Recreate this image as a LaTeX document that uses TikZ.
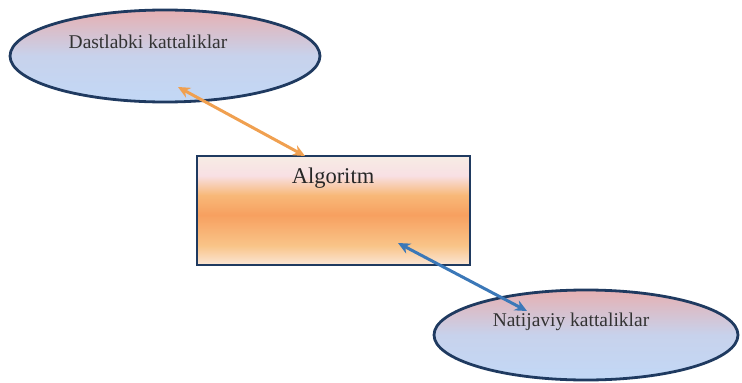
\documentclass[tikz,border=0pt]{standalone}
\usepackage{fontspec}
\setmainfont{Liberation Serif}
\usetikzlibrary{shapes.geometric,arrows.meta}
\definecolor{navy}{HTML}{1F3A60}
\definecolor{elltop}{HTML}{E6B0B2}
\definecolor{ellbot}{HTML}{C2D8F6}
\definecolor{orarrow}{HTML}{F0A050}
\definecolor{blarrow}{HTML}{3B78B8}
\definecolor{ag1}{RGB}{251,230,214}
\definecolor{ag2}{RGB}{249,196,136}
\definecolor{ag3}{RGB}{247,160,96}
\definecolor{ag4}{RGB}{248,184,120}
\definecolor{ag5}{RGB}{248,224,228}
\definecolor{ag6}{RGB}{246,236,228}
\pgfdeclareverticalshading{algshade}{100bp}{%
  color(0bp)=(ag1);
  color(25bp)=(ag1);
  color(34bp)=(ag2);
  color(48bp)=(ag3);
  color(57bp)=(ag4);
  color(66bp)=(ag5);
  color(75bp)=(ag6);
  color(100bp)=(ag6)}
\tikzset{
  ellbox/.style={ellipse, draw=navy, line width=2.8pt, inner sep=0pt,
    top color=elltop, bottom color=ellbot, middle color=ellbot!85!elltop},
  algbox/.style={rectangle, draw=navy, line width=2.6pt, inner sep=0pt, shading=algshade},
  lbl/.style={font=\fontsize{19.5}{22}\selectfont, text=black!80},
  biarrow/.style={line width=3pt, {Stealth[length=12pt,width=11pt]}-{Stealth[length=12pt,width=11pt]}},
}
\begin{document}
\begin{tikzpicture}[x=1pt,y=-1pt]
\useasboundingbox (0,0) rectangle (742,383);
\node[ellbox, minimum width=310pt, minimum height=92pt] (e1) at (165,56) {};
\node[lbl] (t1) at (148,42) {Dastlabki kattaliklar};
\node[algbox, minimum width=273pt, minimum height=109pt] (alg) at (333.5,210.5) {};
\node[font=\fontsize{22.5}{25}\selectfont, text=black!85] (t2) at (333,178) {Algoritm};
\node[ellbox, minimum width=304pt, minimum height=90pt] (e2) at (586,335) {};
\node[lbl] (t3) at (571,322) {Natijaviy kattaliklar};
\coordinate (a1) at (178,87);
\coordinate (a2) at (305,156);
\coordinate (b1) at (398,243);
\coordinate (b2) at (527,311);
\draw[biarrow, orarrow] (a1) -- (a2);
\draw[biarrow, blarrow] (b1) -- (b2);
\end{tikzpicture}
\end{document}
